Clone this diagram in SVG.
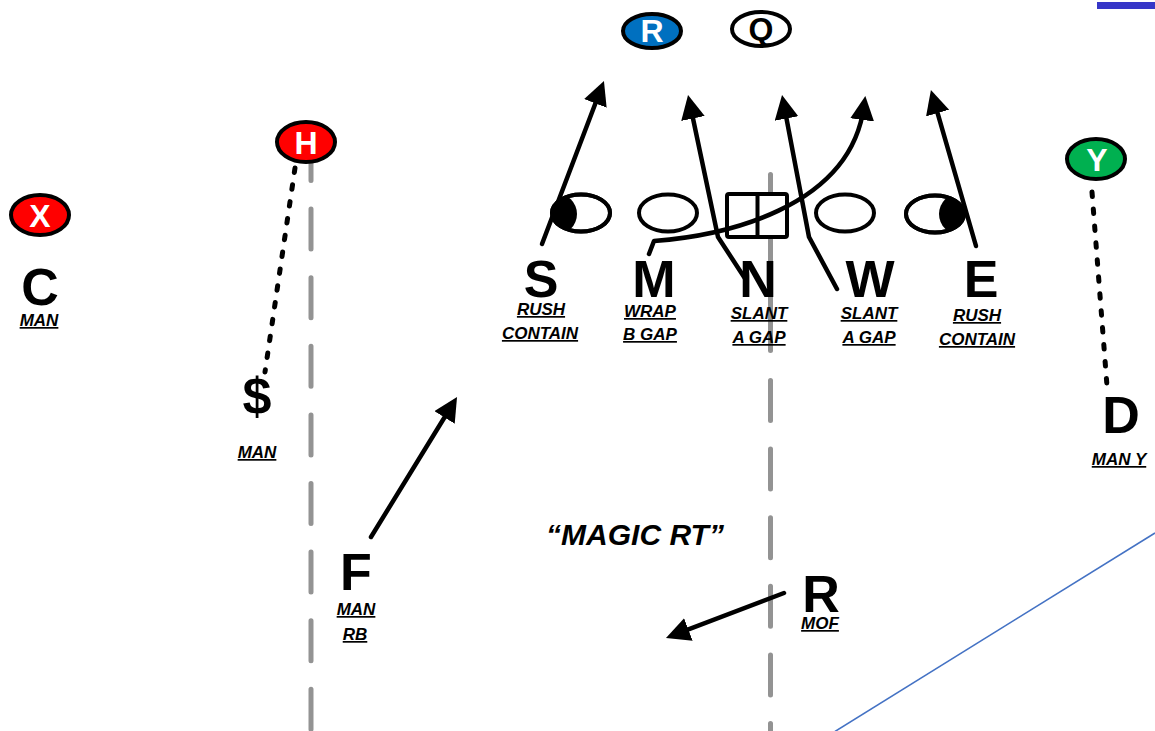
<svg xmlns="http://www.w3.org/2000/svg" width="1155" height="731" viewBox="0 0 1155 731">
<style>
text{font-family:"Liberation Sans",Arial,sans-serif;text-anchor:middle}
.big{font-weight:700;font-size:52px;fill:#000}
.lbl{font-weight:700;font-style:italic;font-size:17px;text-decoration:underline;fill:#000}
.pl{font-weight:700;font-size:32px;fill:#fff}
.off{stroke:#000;stroke-width:4}
.dl{fill:#fff;stroke:#000;stroke-width:4}
.arr{fill:none;stroke:#000;stroke-width:4.5;stroke-linecap:round;stroke-linejoin:round;marker-end:url(#ah)}
.dot{fill:none;stroke:#000;stroke-width:5;stroke-linecap:round;stroke-dasharray:4.5 12.5}
.gray{fill:none;stroke:#939393;stroke-width:5;stroke-linecap:round}
</style>
<defs>
<marker id="ah" markerUnits="userSpaceOnUse" markerWidth="26" markerHeight="26" refX="14" refY="12" orient="auto"><path d="M0,0 L24,12 L0,24 Z" fill="#000"/></marker>
<clipPath id="cs"><ellipse cx="581" cy="213" rx="29" ry="18.5"/></clipPath>
<clipPath id="ce"><ellipse cx="935" cy="214" rx="29" ry="18.5"/></clipPath>
</defs>
<rect width="1155" height="731" fill="#fff"/>
<g id="field-lines">
<line class="gray" x1="311" y1="140.5" x2="311" y2="731" stroke-dasharray="40 28.6"/>
<line class="gray" x1="770.5" y1="174.5" x2="770.5" y2="350.5"/>
<line class="gray" x1="770.5" y1="380.5" x2="770.5" y2="731" stroke-dasharray="40 28.6"/>
<line x1="835" y1="731.5" x2="1155" y2="533" stroke="#4472C4" stroke-width="1.5"/>
<rect x="1097" y="2" width="58" height="7" fill="#3636C8"/>
</g>
<g id="node-R-top"><ellipse class="off" cx="652" cy="31" rx="29" ry="17" fill="#0070C0"/><text class="pl" x="652" y="42">R</text></g>
<g id="node-Q"><ellipse class="off" cx="761" cy="29" rx="29" ry="17" fill="#fff"/><text class="pl" x="761" y="40" style="fill:#000">Q</text></g>
<g id="node-H"><ellipse class="off" cx="306" cy="142" rx="29" ry="20" fill="#FF0000"/><text class="pl" x="306" y="154">H</text></g>
<g id="node-X"><ellipse class="off" cx="40" cy="215" rx="29" ry="20" fill="#FF0000"/><text class="pl" x="40" y="227">X</text></g>
<g id="node-Y"><ellipse class="off" cx="1096" cy="159" rx="29" ry="20" fill="#00B050"/><text class="pl" x="1097" y="171">Y</text></g>
<g id="node-S-dl"><ellipse class="dl" cx="581" cy="213" rx="29" ry="18.5"/><ellipse cx="556" cy="214" rx="21" ry="21" fill="#000" clip-path="url(#cs)"/><ellipse cx="581" cy="213" rx="29" ry="18.5" fill="none" stroke="#000" stroke-width="4"/></g>
<g id="node-M-dl"><ellipse class="dl" cx="668" cy="213" rx="29" ry="18.5"/></g>
<g id="node-center"><rect class="dl" x="727" y="194" width="60" height="43" rx="2"/><line x1="757.5" y1="194" x2="757.5" y2="237" stroke="#000" stroke-width="4"/></g>
<g id="node-W-dl"><ellipse class="dl" cx="845" cy="213" rx="29" ry="18.5"/></g>
<g id="node-E-dl"><ellipse class="dl" cx="935" cy="214" rx="29" ry="18.5"/><ellipse cx="960" cy="214" rx="21" ry="21" fill="#000" clip-path="url(#ce)"/><ellipse cx="935" cy="214" rx="29" ry="18.5" fill="none" stroke="#000" stroke-width="4"/></g>
<g id="node-S"><text class="big" x="541" y="297">S</text><text class="lbl" x="541" y="315">RUSH</text><text class="lbl" x="540" y="339">CONTAIN</text></g>
<g id="node-M"><text class="big" x="654" y="297">M</text><text class="lbl" x="650" y="317">WRAP</text><text class="lbl" x="650" y="340">B GAP</text></g>
<g id="node-N"><text class="big" x="758" y="297">N</text><text class="lbl" x="759" y="319">SLANT</text><text class="lbl" x="759" y="343">A GAP</text></g>
<g id="node-W"><text class="big" x="870" y="297">W</text><text class="lbl" x="869" y="319">SLANT</text><text class="lbl" x="869" y="343">A GAP</text></g>
<g id="node-E"><text class="big" x="981" y="297">E</text><text class="lbl" x="977" y="321">RUSH</text><text class="lbl" x="977" y="345">CONTAIN</text></g>
<g id="node-C"><text class="big" x="40" y="305">C</text><text class="lbl" x="39" y="326">MAN</text></g>
<g id="node-dollar"><text class="big" x="257" y="414">$</text><text class="lbl" x="257" y="458">MAN</text></g>
<g id="node-D"><text class="big" x="1121" y="433">D</text><text class="lbl" x="1119" y="465">MAN Y</text></g>
<g id="node-F"><text class="big" x="356" y="590">F</text><text class="lbl" x="356" y="615">MAN</text><text class="lbl" x="355" y="640">RB</text></g>
<g id="node-R-mof"><text class="big" x="821" y="612">R</text><text class="lbl" x="820" y="629">MOF</text></g>
<g id="title"><text x="635" y="545" style="font-weight:700;font-style:italic;font-size:30px">“MAGIC RT”</text></g>
<g id="connectors">
<line class="dot" x1="295" y1="168" x2="265" y2="372"/>
<line class="dot" x1="1092" y1="192" x2="1107" y2="386"/>
<path class="arr" d="M542,244 L600.4,90.3"/>
<path class="arr" d="M746,280 L718,237 L690.1,104.8"/>
<path class="arr" d="M837,289 L809,237 L783.9,104.8"/>
<path class="arr" d="M649,254 L654,241 C720,236 850,210 864,106"/>
<path class="arr" d="M976,246 L933.7,99.6"/>
<path class="arr" d="M371,537 L451.8,405.5"/>
<path class="arr" d="M784,593 L675.3,634.4"/>
</g>
</svg>
